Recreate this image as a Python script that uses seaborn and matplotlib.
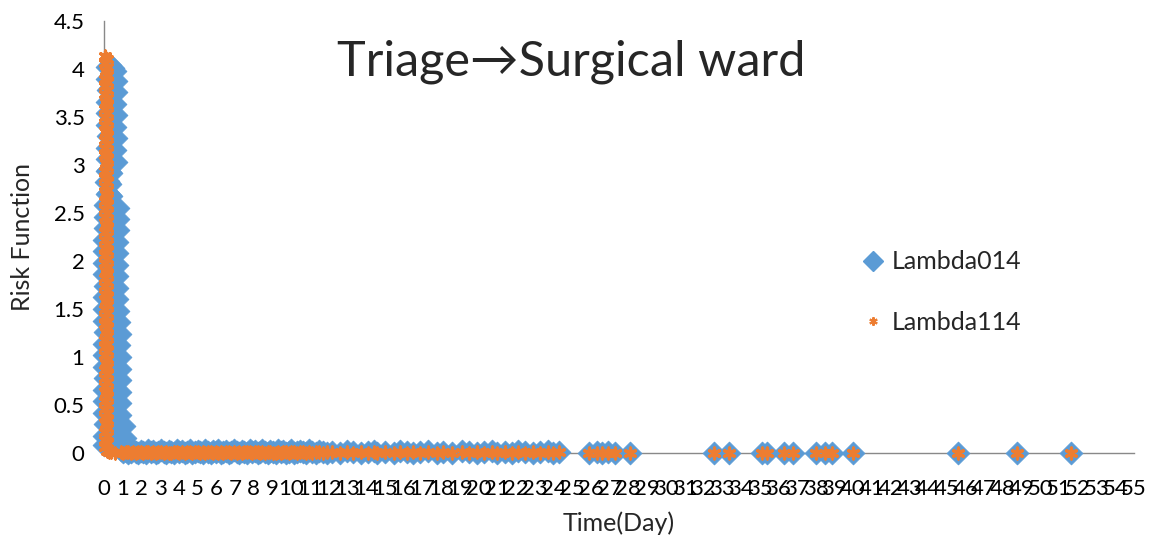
import pandas as pd
import matplotlib
matplotlib.use("Agg")
import matplotlib.pyplot as plt
from matplotlib.lines import Line2D
from matplotlib.ticker import MultipleLocator, FormatStrFormatter
import seaborn as sns

# -----------------------------
# Data
# -----------------------------
# Lambda014: dense early spike (days, risk)
spike014_days = [
    0.18, 0.32, 0.47, 0.60,
    0.16, 0.30, 0.45, 0.62,
    0.19, 0.33, 0.48, 0.63,
    0.16, 0.31, 0.46, 0.58,
    0.18, 0.32, 0.47, 0.62,
    0.16, 0.30, 0.45, 0.60,
    0.19, 0.33, 0.48, 0.64,
    0.16, 0.31, 0.46, 0.59,
    0.18, 0.32, 0.47, 0.62,
    0.14, 0.22, 0.30, 0.38,
    0.12, 0.20, 0.28, 0.34,
    0.14, 0.24, 0.32, 0.40,
    0.08, 0.30, 0.50, 0.73,
    0.06, 0.28, 0.52, 0.76,
    0.08, 0.30, 0.54, 0.74,
    0.02, 0.24, 0.48, 0.70,
    0.00, 0.24, 0.46, 0.68,
    0.02, 0.26, 0.50, 0.72,
    0.00, 0.22, 0.45, 0.67,
    0.03, 0.25, 0.48, 0.70,
    0.00, 0.23, 0.46, 0.69,
    0.02, 0.26, 0.50, 0.73,
    0.00, 0.26, 0.52, 0.78,
    0.03, 0.30, 0.57, 0.84,
    0.00, 0.27, 0.55, 0.82,
    0.02, 0.30, 0.58, 0.86,
    0.00, 0.28, 0.56, 0.83,
    0.03, 0.30, 0.58, 0.87,
    0.00, 0.28, 0.56, 0.84,
    0.02, 0.31, 0.60, 0.88,
    0.00, 0.28, 0.57, 0.85,
    0.03, 0.38, 0.73, 1.08,
    0.00, 0.37, 0.75, 1.12,
    0.02, 0.40, 0.78, 1.15,
]
spike014_risk = [
    4.02, 4.04, 4.01, 3.98,
    3.90, 3.92, 3.89, 3.88,
    3.78, 3.80, 3.77, 3.76,
    3.66, 3.68, 3.65, 3.64,
    3.54, 3.55, 3.53, 3.52,
    3.42, 3.44, 3.41, 3.40,
    3.30, 3.31, 3.29, 3.28,
    3.18, 3.20, 3.17, 3.16,
    3.06, 3.07, 3.05, 3.03,
    2.94, 2.95, 2.93, 2.92,
    2.82, 2.83, 2.81, 2.80,
    2.70, 2.71, 2.69, 2.68,
    2.58, 2.59, 2.57, 2.55,
    2.46, 2.47, 2.45, 2.44,
    2.34, 2.35, 2.33, 2.32,
    2.22, 2.23, 2.21, 2.20,
    2.10, 2.11, 2.09, 2.08,
    1.98, 1.99, 1.97, 1.96,
    1.86, 1.87, 1.85, 1.84,
    1.74, 1.75, 1.73, 1.72,
    1.62, 1.63, 1.61, 1.60,
    1.50, 1.51, 1.49, 1.48,
    1.38, 1.39, 1.37, 1.36,
    1.26, 1.27, 1.25, 1.24,
    1.14, 1.15, 1.13, 1.12,
    1.02, 1.03, 1.01, 1.00,
    0.90, 0.91, 0.89, 0.88,
    0.78, 0.79, 0.77, 0.76,
    0.66, 0.67, 0.65, 0.64,
    0.54, 0.55, 0.53, 0.52,
    0.42, 0.43, 0.41, 0.40,
    0.30, 0.31, 0.29, 0.28,
    0.18, 0.19, 0.17, 0.16,
    0.08, 0.09, 0.07, 0.06,
]

# Lambda114: narrow early spike (days, risk)
spike114_days = [
    0.08, 0.15, 0.06, 0.14, 0.09, 0.16, 0.07, 0.15, 0.08, 0.14,
    0.06, 0.15, 0.09, 0.16, 0.07, 0.14, 0.08, 0.15, 0.06, 0.16,
    0.09, 0.14, 0.07, 0.15, 0.08, 0.16, 0.06, 0.14, 0.09, 0.15,
    0.07, 0.16, 0.08, 0.14, 0.06, 0.15, 0.09, 0.16, 0.07, 0.14,
    0.08, 0.15, 0.06, 0.16, 0.09, 0.14, 0.07, 0.15, 0.08, 0.16,
    0.06, 0.14, 0.35, 0.60,
]
spike114_risk = [
    4.14, 4.10, 4.06, 4.02, 3.98, 3.94, 3.90, 3.86, 3.82, 3.78,
    3.74, 3.70, 3.66, 3.62, 3.58, 3.54, 3.50, 3.46, 3.42, 3.38,
    3.34, 3.30, 3.26, 3.22, 3.18, 3.14, 3.10, 3.06, 3.02, 2.98,
    2.94, 2.90, 2.86, 2.82, 2.78, 2.74, 2.70, 2.66, 2.62, 2.58,
    2.54, 2.50, 2.46, 2.42, 2.38, 2.34, 2.30, 2.26, 2.22, 2.18,
    2.14, 2.10, 0.01, 0.00,
]
spike114_low_days = [
    0.08, 0.15, 0.06, 0.14, 0.09, 0.16, 0.07, 0.15, 0.08, 0.14,
    0.06, 0.15, 0.09, 0.16, 0.07, 0.14, 0.08, 0.15, 0.06, 0.16,
    0.09, 0.14, 0.07, 0.15, 0.08, 0.16, 0.06, 0.14, 0.09, 0.15,
    0.07, 0.16, 0.08, 0.14, 0.06, 0.15, 0.09, 0.16, 0.07, 0.14,
    0.08, 0.15, 0.06, 0.16, 0.09, 0.14, 0.07, 0.15, 0.08, 0.16,
    0.06, 0.14, 0.25,
]
spike114_low_risk = [
    2.06, 2.02, 1.98, 1.94, 1.90, 1.86, 1.82, 1.78, 1.74, 1.70,
    1.66, 1.62, 1.58, 1.54, 1.50, 1.46, 1.42, 1.38, 1.34, 1.30,
    1.26, 1.22, 1.18, 1.14, 1.10, 1.06, 1.02, 0.98, 0.94, 0.90,
    0.86, 0.82, 0.78, 0.74, 0.70, 0.66, 0.62, 0.58, 0.54, 0.50,
    0.46, 0.42, 0.38, 0.34, 0.30, 0.26, 0.22, 0.18, 0.14, 0.10,
    0.06, 0.02, 0.01,
]

# Event times shared by both series, risk close to zero
early_days = [
    0.9, 1.0, 1.15, 1.3, 1.42, 1.55, 1.7, 1.82, 1.95, 2.1,
    2.22, 2.36, 2.5, 2.63, 2.78, 2.9, 3.05, 3.2, 3.32, 3.46,
    3.6, 3.74, 3.88, 4.0, 4.15, 4.3, 4.43, 4.58, 4.7, 4.85,
    5.0, 5.12, 5.27, 5.4, 5.55, 5.7, 5.82, 5.96, 6.1, 6.25,
    6.38, 6.52, 6.66, 6.8, 6.94, 7.08, 7.2, 7.35, 7.5, 7.62,
    7.77, 7.9, 8.05, 8.2, 8.32, 8.46, 8.6, 8.75, 8.88, 9.02,
    9.16, 9.3, 9.45, 9.58, 9.72, 9.86, 10.0, 10.15, 10.3, 10.45,
    10.6, 10.78, 10.95, 11.1, 11.3, 11.5, 11.7, 11.9,
]
early_risk014 = [
    0.03, 0.01, 0.02, 0.00, 0.01, 0.03, 0.01, 0.00, 0.02, 0.01,
    0.00, 0.03, 0.01, 0.02, 0.00, 0.01, 0.03, 0.01, 0.00, 0.02,
    0.01, 0.00, 0.03, 0.01, 0.02, 0.00, 0.01, 0.03, 0.00, 0.01,
    0.02, 0.01, 0.00, 0.03, 0.01, 0.00, 0.02, 0.01, 0.03, 0.00,
    0.01, 0.02, 0.00, 0.01, 0.03, 0.01, 0.00, 0.02, 0.01, 0.00,
    0.03, 0.01, 0.02, 0.00, 0.01, 0.03, 0.01, 0.00, 0.02, 0.01,
    0.00, 0.03, 0.01, 0.02, 0.00, 0.01, 0.03, 0.00, 0.01, 0.02,
    0.01, 0.00, 0.03, 0.01, 0.00, 0.02, 0.01, 0.00,
]
early_risk114 = [
    0.01, 0.00, 0.01, 0.01, 0.00, 0.01, 0.00, 0.01, 0.01, 0.00,
    0.01, 0.01, 0.00, 0.01, 0.00, 0.01, 0.01, 0.00, 0.01, 0.00,
    0.00, 0.01, 0.01, 0.00, 0.01, 0.00, 0.01, 0.01, 0.00, 0.01,
    0.01, 0.00, 0.01, 0.00, 0.01, 0.01, 0.00, 0.01, 0.00, 0.01,
    0.00, 0.01, 0.01, 0.00, 0.01, 0.00, 0.01, 0.00, 0.01, 0.01,
    0.01, 0.00, 0.01, 0.01, 0.00, 0.01, 0.00, 0.01, 0.01, 0.00,
    0.00, 0.01, 0.00, 0.01, 0.01, 0.00, 0.01, 0.01, 0.00, 0.01,
    0.01, 0.00, 0.01, 0.00, 0.01, 0.01, 0.00, 0.01,
]
mid_days = [
    12.2, 12.6, 13.0, 13.3, 13.7, 14.1, 14.4, 14.6, 15.0, 15.5,
    15.8, 16.2, 16.5, 16.9, 17.3, 17.8, 18.1, 18.6, 19.1, 19.5,
    19.9, 20.3, 20.7, 21.0, 21.4, 21.8, 22.1, 22.5, 22.9, 23.3,
    23.7, 24.0, 24.3,
]
mid_risk014 = [
    0.01, 0.00, 0.02, 0.01, 0.00, 0.01, 0.02, 0.00, 0.01, 0.00,
    0.02, 0.01, 0.00, 0.01, 0.02, 0.00, 0.01, 0.00, 0.02, 0.01,
    0.00, 0.01, 0.02, 0.00, 0.01, 0.00, 0.02, 0.01, 0.00, 0.01,
    0.02, 0.00, 0.01,
]
mid_risk114 = [
    0.01, 0.00, 0.01, 0.00, 0.01, 0.00, 0.01, 0.00, 0.01, 0.00,
    0.01, 0.00, 0.01, 0.00, 0.01, 0.00, 0.01, 0.00, 0.01, 0.00,
    0.01, 0.00, 0.01, 0.00, 0.01, 0.00, 0.01, 0.00, 0.01, 0.00,
    0.01, 0.00, 0.01,
]
late_days = [
    25.9, 26.3, 26.6, 26.9, 27.3, 28.1, 32.55, 33.35, 35.15, 35.4,
    36.3, 36.8, 38.0, 38.5, 38.9, 40.0, 45.6, 48.75, 51.65,
]
late_risk014 = [
    0.00, 0.01, 0.00, 0.01, 0.00, 0.00, 0.00, 0.00, 0.00, 0.00,
    0.00, 0.00, 0.00, 0.00, 0.00, 0.00, 0.00, 0.00, 0.00,
]
late_risk114 = [
    0.00, 0.00, 0.00, 0.00, 0.00, 0.00, 0.00, 0.00, 0.00, 0.00,
    0.00, 0.00, 0.00, 0.00, 0.00, 0.00, 0.00, 0.00, 0.00,
]

series_names = ["Lambda014", "Lambda114"]
yticks = [0, 0.5, 1, 1.5, 2, 2.5, 3, 3.5, 4, 4.5]
ytick_labels = ["0", "0.5", "1", "1.5", "2", "2.5", "3", "3.5", "4", "4.5"]

BLUE = "#5B9BD5"
ORANGE = "#ED7D31"
AXIS_GRAY = "#898989"

df014 = pd.DataFrame({
    "time": spike014_days + early_days + mid_days + late_days,
    "risk": spike014_risk + early_risk014 + mid_risk014 + late_risk014,
})
df114 = pd.DataFrame({
    "time": spike114_days + spike114_low_days + early_days + mid_days + late_days,
    "risk": spike114_risk + spike114_low_risk + early_risk114 + mid_risk114 + late_risk114,
})

# -----------------------------
# Plot
# -----------------------------
sns.set_style("white")
plt.rcParams["font.family"] = ["Lato", "DejaVu Sans"]

fig = plt.figure(figsize=(11.54, 5.44), dpi=100)
ax = fig.add_axes([104 / 1154, 91 / 544, 1030 / 1154, 432 / 544])

sns.scatterplot(data=df014, x="time", y="risk", ax=ax, marker="D", s=135,
                color=BLUE, edgecolor=BLUE, linewidth=0.6, zorder=2,
                clip_on=False)
sns.scatterplot(data=df114, x="time", y="risk", ax=ax, marker=(6, 2, 0), s=62,
                color=ORANGE, edgecolor=ORANGE, linewidth=2.3, zorder=3,
                clip_on=False)

ax.set_xlim(0, 55)
ax.set_ylim(0, 4.5)
ax.xaxis.set_major_locator(MultipleLocator(1))
ax.xaxis.set_major_formatter(FormatStrFormatter("%d"))
ax.set_yticks(yticks)
ax.set_yticklabels(ytick_labels)

for side in ["top", "right"]:
    ax.spines[side].set_visible(False)
for side in ["left", "bottom"]:
    ax.spines[side].set_color(AXIS_GRAY)
    ax.spines[side].set_linewidth(1.0)
    ax.spines[side].set_zorder(1)
ax.tick_params(axis="both", which="major", direction="out", length=6,
               width=1.0, color=AXIS_GRAY, labelsize=16, labelcolor="black")
ax.tick_params(axis="y", pad=8)
ax.tick_params(axis="x", pad=13)
ax.grid(False)

ax.set_xlabel("Time(Day)", fontsize=18)
ax.set_ylabel("Risk Function", fontsize=18)
ax.xaxis.set_label_coords(0.5, -0.135)
ax.yaxis.set_label_coords(-0.068, 0.5)

fig.text(571 / 1154, 1 - 62 / 544, "Triage\u2192Surgical ward", fontsize=35,
         ha="center", va="center")

handles = [
    Line2D([], [], linestyle="none", marker="D", markersize=10.5,
           markerfacecolor=BLUE, markeredgecolor=BLUE),
    Line2D([], [], linestyle="none", marker=(6, 2, 0), markersize=6,
           markeredgewidth=1.5, color=ORANGE),
]
ax.legend(handles, series_names, loc="center left",
          bbox_to_anchor=(839 / 1154, 1 - 292 / 544),
          bbox_transform=fig.transFigure, frameon=False, fontsize=18,
          labelspacing=1.5, handlelength=0.9, handletextpad=0.3)

plt.savefig("out.png", dpi=100)
